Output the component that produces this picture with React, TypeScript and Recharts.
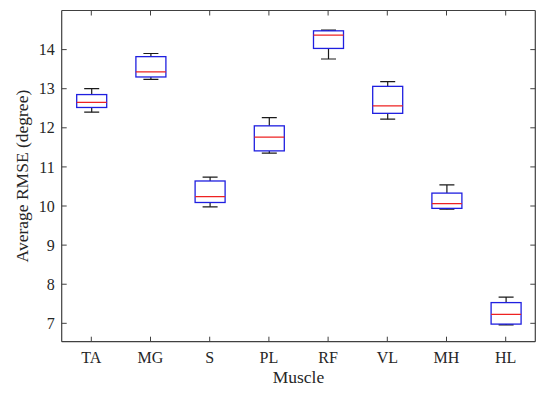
import React from 'react';
import { ComposedChart, Bar, XAxis, YAxis, Label } from 'recharts';

const muscles = ['TA', 'MG', 'S', 'PL', 'RF', 'VL', 'MH', 'HL'];
const whiskerLow = [12.4, 13.24, 9.98, 11.35, 13.76, 12.22, 9.92, 6.96];
const q1 = [12.52, 13.3, 10.09, 11.41, 14.03, 12.37, 9.94, 6.98];
const median = [12.65, 13.43, 10.24, 11.76, 14.37, 12.56, 10.06, 7.23];
const q3 = [12.85, 13.82, 10.64, 12.05, 14.48, 13.06, 10.33, 7.53];
const whiskerHigh = [13.0, 13.9, 10.74, 12.26, 14.5, 13.18, 10.54, 7.67];
const yTicks = [7, 8, 9, 10, 11, 12, 13, 14];

const data = muscles.map((name, i) => ({
  name,
  range: [whiskerLow[i], whiskerHigh[i]],
  lo: whiskerLow[i],
  hi: whiskerHigh[i],
  q1: q1[i],
  med: median[i],
  q3: q3[i],
}));

const FONT = "'Liberation Serif', 'Times New Roman', serif";
const AXIS = '#404040';
const TEXT = '#262626';
const BOX = '#1f1fe0';
const MED = '#ee2222';
const WHISK = '#1a1a1a';
const TICK_LEN = 5;

// box drawn inside the whisker range bar, values mapped via the bar's pixel extent
const BoxShape = (props: any) => {
  const { x, y, width, height, payload } = props;
  const top = Math.min(y, y + height);
  const bot = Math.max(y, y + height);
  const { lo, hi } = payload;
  const px = (v: number) => top + ((hi - v) / (hi - lo)) * (bot - top);
  const cx = x + width / 2;
  const capHalf = width / 4;
  const yq1 = px(payload.q1);
  const yq3 = px(payload.q3);
  const ym = px(payload.med);
  return (
    <g>
      <line x1={cx} x2={cx} y1={top} y2={yq3} stroke={WHISK} strokeWidth={1.2} />
      <line x1={cx} x2={cx} y1={yq1} y2={bot} stroke={WHISK} strokeWidth={1.2} />
      <line x1={cx - capHalf} x2={cx + capHalf} y1={top} y2={top} stroke={WHISK} strokeWidth={1.2} />
      <line x1={cx - capHalf} x2={cx + capHalf} y1={bot} y2={bot} stroke={WHISK} strokeWidth={1.2} />
      <rect x={x} y={yq3} width={width} height={yq1 - yq3} fill="none" stroke={BOX} strokeWidth={1.3} />
      <line x1={x} x2={x + width} y1={ym} y2={ym} stroke={MED} strokeWidth={1.3} />
    </g>
  );
};

const LeftTick = (props: any) => {
  const { x, y, payload } = props;
  const ax = x + 7;
  return (
    <g>
      <line x1={ax} x2={ax + TICK_LEN} y1={y} y2={y} stroke={AXIS} strokeWidth={1} />
      <text x={x} y={y} dy="0.35em" textAnchor="end" fontSize={16} fontFamily={FONT} fill={TEXT}>
        {payload.value}
      </text>
    </g>
  );
};

const BottomTick = (props: any) => {
  const { x, y, payload } = props;
  const ay = y - 9.6;
  return (
    <g>
      <line x1={x} x2={x} y1={ay} y2={ay - TICK_LEN} stroke={AXIS} strokeWidth={1} />
      <text x={x} y={y} dy="0.71em" textAnchor="middle" fontSize={16} fontFamily={FONT} fill={TEXT}>
        {payload.value}
      </text>
    </g>
  );
};

const TopTick = (props: any) => {
  const { x, y } = props;
  return <line x1={x} x2={x} y1={y} y2={y + TICK_LEN} stroke={AXIS} strokeWidth={1} />;
};

const RightTick = (props: any) => {
  const { x, y } = props;
  return <line x1={x} x2={x - TICK_LEN} y1={y} y2={y} stroke={AXIS} strokeWidth={1} />;
};

const YLabel = (props: any) => {
  const { viewBox } = props;
  const cx = viewBox.x + 14;
  const cy = viewBox.y + viewBox.height / 2;
  return (
    <text
      x={cx}
      y={cy}
      transform={`rotate(-90 ${cx} ${cy})`}
      textAnchor="middle"
      dominantBaseline="central"
      fontSize={17.5}
      fontFamily={FONT}
      fill={TEXT}
    >
      Average RMSE (degree)
    </text>
  );
};

export default function App() {
  return (
    <div style={{ width: 542, height: 387 }}>
      <ComposedChart
        width={542}
        height={387}
        data={data}
        margin={{ top: 1.5, right: 13.7, bottom: 3.3, left: 0 }}
      >
        <XAxis
          dataKey="name"
          type="category"
          height={50}
          tickSize={0}
          tickMargin={9.6}
          tickLine={false}
          axisLine={{ stroke: AXIS, strokeWidth: 1.2 }}
          tick={<BottomTick />}
          interval={0}
        >
          <Label
            value="Muscle"
            position="insideBottom"
            offset={8.4}
            style={{ fontSize: 17.5, fontFamily: FONT, fill: TEXT }}
          />
        </XAxis>
        <XAxis
          xAxisId="top"
          dataKey="name"
          type="category"
          orientation="top"
          height={1}
          tickSize={0}
          tickMargin={0}
          tickLine={false}
          axisLine={{ stroke: AXIS, strokeWidth: 1.2 }}
          tick={<TopTick />}
          interval={0}
        />
        <YAxis
          type="number"
          domain={[6.53, 15]}
          ticks={yTicks}
          allowDataOverflow
          width={53.7}
          tickSize={0}
          tickMargin={7}
          tickLine={false}
          axisLine={{ stroke: AXIS, strokeWidth: 1.2 }}
          tick={<LeftTick />}
          interval={0}
          label={{ content: <YLabel /> }}
        />
        <YAxis
          yAxisId="right"
          orientation="right"
          type="number"
          domain={[6.53, 15]}
          ticks={yTicks}
          allowDataOverflow
          width={1}
          tickSize={0}
          tickMargin={0}
          tickLine={false}
          axisLine={{ stroke: AXIS, strokeWidth: 1.2 }}
          tick={<RightTick />}
          interval={0}
        />
        <Bar dataKey="range" barSize={30} shape={<BoxShape />} isAnimationActive={false} />
      </ComposedChart>
    </div>
  );
}
